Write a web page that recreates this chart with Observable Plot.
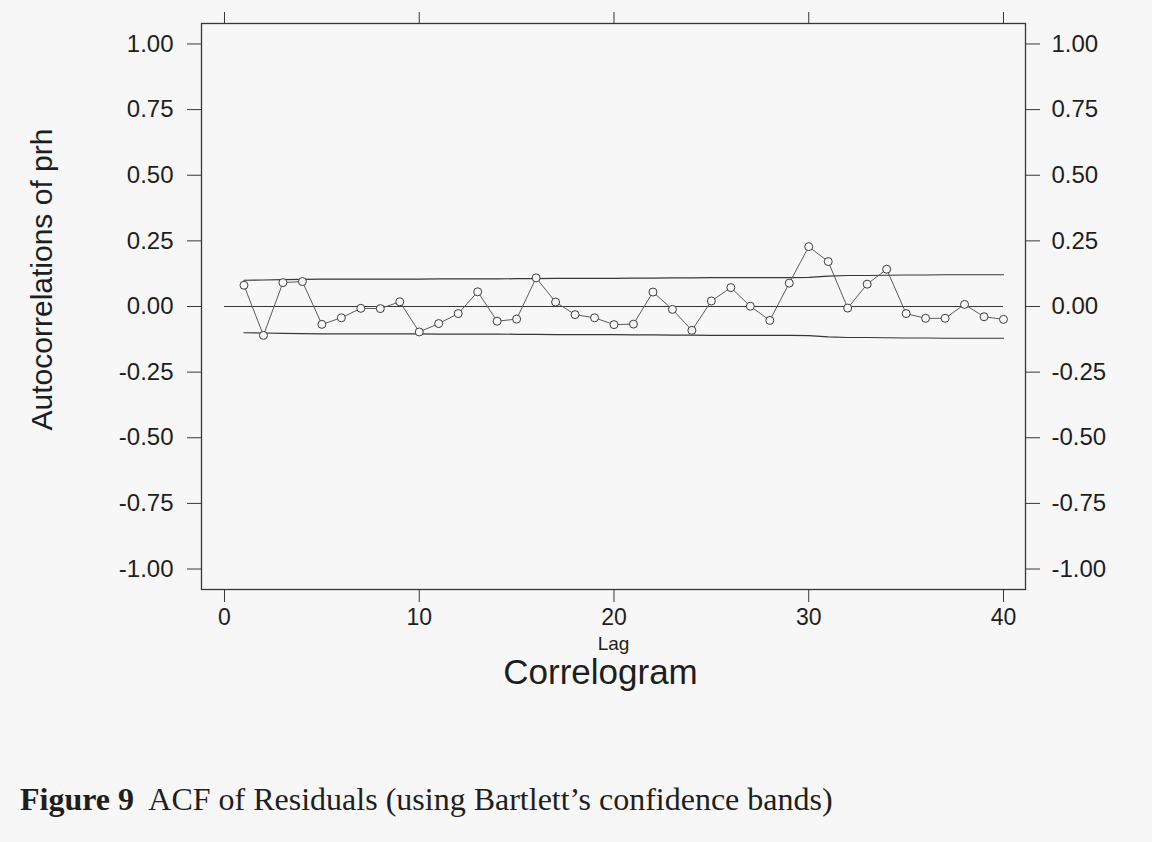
<!DOCTYPE html>
<html><head><meta charset="utf-8">
<script src="https://cdn.jsdelivr.net/npm/d3@7"></script>
<script src="https://cdn.jsdelivr.net/npm/@observablehq/plot@0.6"></script>
<style>
body{margin:0;background:#f7f7f7;width:1152px;height:842px;position:relative;overflow:hidden;font-family:"Liberation Sans",Arial,sans-serif;}
#chart{position:absolute;left:0;top:0;}
#caption{position:absolute;left:20px;top:784px;font-family:"Liberation Serif","Times New Roman",serif;font-size:32px;line-height:31px;white-space:pre;color:#1e1e1e;}
</style></head><body>
<div id="chart"></div>
<div id="caption"><b>Figure 9</b>  ACF of Residuals (using Bartlett’s confidence bands)</div>
<script>
const lags = [1,2,3,4,5,6,7,8,9,10,11,12,13,14,15,16,17,18,19,20,21,22,23,24,25,26,27,28,29,30,31,32,33,34,35,36,37,38,39,40];
const acf = [0.081,-0.110,0.091,0.095,-0.068,-0.043,-0.007,-0.008,0.018,-0.097,
             -0.065,-0.027,0.056,-0.056,-0.048,0.109,0.017,-0.031,-0.043,-0.069,
             -0.067,0.055,-0.011,-0.091,0.021,0.072,0.001,-0.053,0.089,0.228,
             0.171,-0.006,0.085,0.142,-0.027,-0.045,-0.045,0.008,-0.039,-0.049];
const band = [0.100,0.101,0.102,0.103,0.104,0.104,0.104,0.104,0.104,0.104,
              0.105,0.105,0.105,0.105,0.106,0.106,0.107,0.107,0.107,0.107,
              0.108,0.108,0.109,0.109,0.110,0.110,0.110,0.110,0.110,0.111,
              0.116,0.118,0.118,0.119,0.120,0.120,0.121,0.121,0.121,0.121];
const xTicks = [0,10,20,30,40];
const yTicks = [-1,-0.75,-0.5,-0.25,0,0.25,0.5,0.75,1];
const rows = lags.map((lag,i)=>({lag, acf: acf[i], band: band[i]}));
const ink = "#363636";
const chart = Plot.plot({
  width:1152, height:700,
  marginLeft:201, marginRight:127, marginTop:23, marginBottom:111,
  style:{background:"transparent", fontFamily:"'Liberation Sans', Arial, sans-serif", color:"#1e1e1e", overflow:"visible"},
  x:{domain:[-1.181, 41.13]},
  y:{domain:[-1.078, 1.078]},
  marks:[
    Plot.frame({stroke:ink, strokeWidth:1.3}),
    Plot.axisX({anchor:"bottom", ticks:xTicks, tickSize:13, tickPadding:6, fontSize:23, label:null, stroke:ink, tickFormat:d=>String(d)}),
    Plot.axisX({anchor:"top", ticks:xTicks, tickSize:12, tickFormat:()=>"", label:null, stroke:ink}),
    Plot.axisY({anchor:"left", ticks:yTicks, tickSize:14, tickPadding:14, fontSize:24, label:null, stroke:ink, tickFormat:d=>d.toFixed(2)}),
    Plot.axisY({anchor:"right", ticks:yTicks, tickSize:14, tickPadding:12, fontSize:24, label:null, stroke:ink, tickFormat:d=>d.toFixed(2)}),
    Plot.ruleY([0], {x1:0, x2:40, stroke:ink, strokeWidth:1.2}),
    Plot.line(rows, {x:"lag", y:"band", stroke:ink, strokeWidth:1.2}),
    Plot.line(rows, {x:"lag", y:d=>-d.band, stroke:ink, strokeWidth:1.2}),
    Plot.line(rows, {x:"lag", y:"acf", stroke:"#5a5a5a", strokeWidth:1}),
    Plot.dot(rows, {x:"lag", y:"acf", r:4, stroke:"#3c3c3c", fill:"#f7f7f7", strokeWidth:1}),
    Plot.text(["Autocorrelations of prh"], {frameAnchor:"left", textAnchor:"middle", lineAnchor:"middle", rotate:-90, dx:-159, dy:-27, fontSize:30, fill:"#1e1e1e"}),
    Plot.text(["Lag"], {frameAnchor:"bottom", textAnchor:"middle", lineAnchor:"middle", dy:54, fontSize:19, fill:"#1e1e1e"}),
    Plot.text(["Correlogram"], {frameAnchor:"bottom", textAnchor:"middle", lineAnchor:"middle", dx:-13, dy:83, fontSize:35, fill:"#1e1e1e"})
  ]
});
document.getElementById("chart").appendChild(chart);
</script>
</body></html>
